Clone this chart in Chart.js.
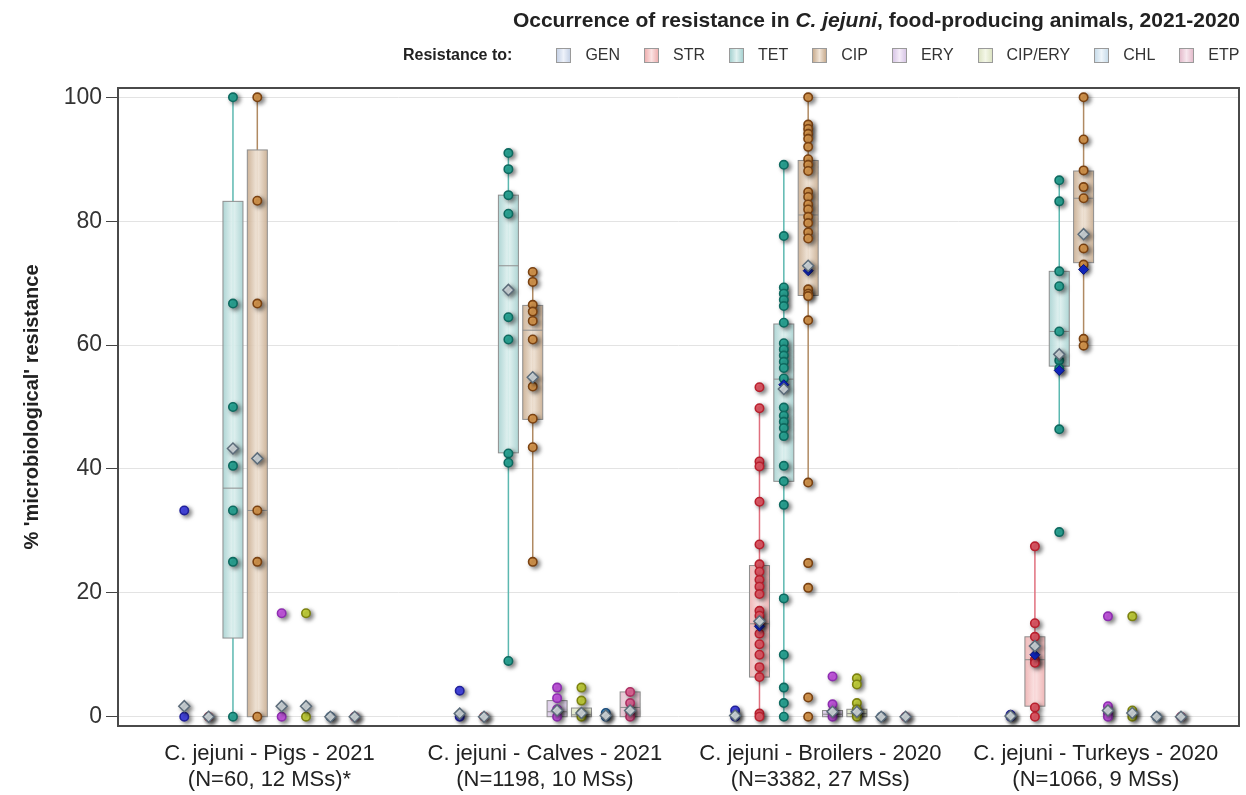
<!DOCTYPE html>
<html>
<head>
<meta charset="utf-8">
<script src="https://cdn.jsdelivr.net/npm/chart.js@4.4.1/dist/chart.umd.min.js"></script>
<style>
  body { margin: 0; background: #fff; font-family: "Liberation Sans", Arial, sans-serif; }
  #wrap { position: relative; width: 1246px; height: 795px; }
  #chart { position: absolute; left: 0; top: 0; }
  #title { position: absolute; right: 6px; top: 8px; font-size: 21px; font-weight: bold; color: #222; white-space: nowrap; }
  #legend { position: absolute; left: 403px; top: 46px; display: flex; align-items: center; font-size: 16px; color: #333; white-space: nowrap; }
  #legend .lead { font-weight: bold; margin-right: 44px; color: #222; }
  #legend .item { display: flex; align-items: center; margin-right: 24px; }
  #legend .item:last-child { margin-right: 0; }
  #legend .sw { width: 13px; height: 13px; border: 1px solid #9a9a9a; margin-right: 14px; }
</style>
</head>
<body>
<div id="wrap">
  <canvas id="chart" width="1246" height="795"></canvas>
  <div id="title">Occurrence of resistance in <i>C. jejuni</i>, food-producing animals, 2021-2020</div>
  <div id="legend"></div>
</div>
<script>
// ===== Data =====
var groupNames = ['C. jejuni - Pigs - 2021', 'C. jejuni - Calves - 2021', 'C. jejuni - Broilers - 2020', 'C. jejuni - Turkeys - 2020'];
var groupSizes = ['(N=60, 12 MSs)*', '(N=1198, 10 MSs)', '(N=3382, 27 MSs)', '(N=1066, 9 MSs)'];
var drugs = ['GEN', 'STR', 'TET', 'CIP', 'ERY', 'CIP/ERY', 'CHL', 'ETP'];
var yTicks = [0, 20, 40, 60, 80, 100];

// % resistance per member state, one list per drug (GEN..ETP)
var pigsPoints = [
  [33.3, 0], [0],
  [100, 66.7, 50, 40.5, 33.3, 25, 0],
  [100, 83.3, 66.7, 33.3, 25, 0],
  [16.7, 0], [16.7, 0], [0], [0]
];
var calvesPoints = [
  [4.2, 0], [0],
  [91.0, 88.4, 84.2, 81.2, 64.5, 60.9, 42.5, 41.0, 9.0],
  [71.8, 70.2, 66.5, 65.4, 63.9, 60.9, 53.3, 48.1, 43.5, 25.0],
  [4.7, 3.0, 1.2, 0], [4.7, 2.6, 0.6, 0], [0.6, 0], [4.0, 2.2, 0.8, 0]
];
var broilersPoints = [
  [1.0, 0],
  [53.2, 49.8, 41.2, 40.4, 34.7, 27.8, 24.6, 23.4, 22.1, 21.0, 19.8, 17.1, 16.3, 15.1, 13.4, 11.7, 10.0, 8.0, 6.4, 0.5, 0],
  [89.1, 77.6, 69.3, 68.3, 67.3, 66.3, 63.6, 60.3, 59.3, 58.3, 57.3, 56.3, 54.6, 49.9, 48.6, 47.6, 46.6, 45.3, 40.5, 38.0, 34.2, 19.1, 10.0, 4.7, 2.2, 0],
  [100, 95.6, 94.9, 94.1, 93.3, 92.0, 90.0, 89.1, 88.1, 84.7, 83.9, 82.7, 81.9, 80.7, 79.7, 78.2, 77.2, 69.0, 68.3, 67.9, 64.0, 37.8, 24.8, 20.8, 3.1, 0],
  [6.5, 2.0, 0.8, 0], [6.2, 5.2, 2.2, 1.2, 0.5, 0], [0], [0]
];
var turkeysPoints = [
  [0.3, 0],
  [27.5, 15.1, 12.9, 9.2, 8.7, 1.5, 0],
  [86.6, 83.2, 71.9, 69.5, 62.2, 57.5, 56.2, 46.4, 29.8],
  [100, 93.2, 88.2, 85.5, 83.7, 75.6, 73.0, 61.0, 59.9],
  [16.2, 1.7, 0.5, 0], [16.2, 1.0, 0], [0], [0]
];

// mean (grey diamond) per drug
var pigsMean     = [1.7, 0, 43.3, 41.7, 1.7, 1.7, 0, 0];
var calvesMean   = [0.5, 0, 68.9, 54.8, 1.0, 0.6, 0.2, 1.0];
var broilersMean = [0.2, 15.4, 52.9, 72.8, 0.8, 0.8, 0, 0];
var turkeysMean  = [0.1, 11.4, 58.5, 77.9, 1.0, 0.6, 0, 0];

// weighted value (blue diamond), only for some drugs
var broilersBlue = [null, 14.6, 53.6, 72.0, null, null, null, null];
var turkeysBlue  = [null, 10.0, 55.9, 72.2, null, null, null, null];

// box stats: [q1, median, q3, whiskerLow, whiskerHigh]
var pigsBox     = [null, null, [12.7, 36.9, 83.2, 0, 100], [0, 33.3, 91.5, 0, 100], null, null, null, null];
var calvesBox   = [null, null, [42.6, 72.8, 84.2, 9.0, 91.0], [48.0, 62.4, 66.4, 25.0, 71.8], [0, 0.8, 2.6, 0, 2.6], [0, 0.3, 1.4, 0, 1.4], null, [0, 1.5, 4.0, 0, 4.0]];
var broilersBox = [null, [6.4, 15.0, 24.4, 0, 49.8], [38.0, 54.5, 63.4, 0, 89.1], [68.0, 81.0, 89.8, 37.8, 100], [0, 0.4, 1.0, 0, 1.0], [0, 0.5, 1.2, 0, 1.2], null, null];
var turkeysBox  = [null, [1.7, 9.2, 12.9, 0, 27.5], [56.6, 62.2, 71.9, 46.4, 86.6], [73.3, 83.7, 88.1, 59.9, 100], null, null, null, null];

// ===== Styles =====
var pointFill = ['#4b4cf2', '#f0606e', '#2fb3a2', '#e6a254', '#d35ff0', '#d2e042', '#3ea2e2', '#f06fa2'];
var pointEdge = ['#20209a', '#b8202e', '#0e6a60', '#7a4212', '#8e2eb0', '#7c8210', '#1d4f80', '#ac2e62'];
var whiskerCol = ['#7a7ad8', '#e0707e', '#5cb8b0', '#b08a62', '#b890d0', '#b8c070', '#80a8c8', '#d890b0'];
var boxEdge   = ['#c6d2e6', '#eeb0b0', '#a7d2d1', '#c9ad90', '#d8c6e6', '#dde4c4', '#c8dcea', '#e4bccc'];
var boxCenter = ['#eef2fa', '#fbe2e2', '#e2f2f1', '#f1e5d8', '#f4ecf8', '#f4f7e8', '#eef5fa', '#f7e7ee'];

var allPoints = [pigsPoints, calvesPoints, broilersPoints, turkeysPoints];
var allMean   = [pigsMean, calvesMean, broilersMean, turkeysMean];
var allBlue   = [null, null, broilersBlue, turkeysBlue];
var allBox    = [pigsBox, calvesBox, broilersBox, turkeysBox];
var drugStep  = 0.0884;

function xPos(g, j) { return g + (j - 3.5) * drugStep; }

// ===== Legend (HTML) =====
(function() {
  var lg = document.getElementById('legend');
  var html = '<span class="lead">Resistance to:</span>';
  drugs.forEach(function(d, j) {
    html += '<span class="item"><span class="sw" style="background:linear-gradient(90deg,' + boxEdge[j] + ',' + boxCenter[j] + ',' + boxEdge[j] + ')"></span>' + d + '</span>';
  });
  lg.innerHTML = html;
})();

// ===== Datasets =====
var datasets = [];
var meanData = [], blueData = [];
allMean.forEach(function(arr, g) {
  arr.forEach(function(v, j) { meanData.push({ x: xPos(g, j), y: v }); });
});
allBlue.forEach(function(arr, g) {
  if (!arr) return;
  arr.forEach(function(v, j) { if (v !== null) blueData.push({ x: xPos(g, j), y: v }); });
});

datasets.push({
  label: 'mean', data: meanData, order: 1,
  pointStyle: 'rectRot', pointRadius: 5.5, backgroundColor: '#dfe7eb', borderColor: '#5c6c7a', borderWidth: 1.5
});
datasets.push({
  label: 'weighted', data: blueData, order: 2,
  pointStyle: 'rectRot', pointRadius: 5, backgroundColor: '#1228c6', borderColor: '#0a167a', borderWidth: 1
});
drugs.forEach(function(d, j) {
  var pts = [];
  allPoints.forEach(function(grp, g) {
    grp[j].forEach(function(v) { pts.push({ x: xPos(g, j), y: v }); });
  });
  datasets.push({
    label: d, data: pts, order: 3,
    pointRadius: 4.2, backgroundColor: pointFill[j], borderColor: pointEdge[j], borderWidth: 1.6
  });
});

// boxes + whiskers drawn through the scales
var boxPlugin = {
  id: 'boxes',
  beforeDatasetsDraw: function(chart) {
    var ctx = chart.ctx, xs = chart.scales.x, ys = chart.scales.y;
    var area = chart.chartArea;
    ctx.save();
    allBox.forEach(function(grp, g) {
      grp.forEach(function(b, j) {
        if (!b) return;
        var cx = xs.getPixelForValue(xPos(g, j));
        var half = 10;
        var yq1 = ys.getPixelForValue(b[0]), ymed = ys.getPixelForValue(b[1]), yq3 = ys.getPixelForValue(b[2]);
        var ylo = ys.getPixelForValue(b[3]), yhi = ys.getPixelForValue(b[4]);
        ctx.strokeStyle = whiskerCol[j];
        ctx.lineWidth = 1.5;
        ctx.beginPath(); ctx.moveTo(cx, ylo); ctx.lineTo(cx, yhi); ctx.stroke();
        var grad = ctx.createLinearGradient(cx - half, 0, cx + half, 0);
        grad.addColorStop(0, boxEdge[j]);
        grad.addColorStop(0.5, boxCenter[j]);
        grad.addColorStop(1, boxEdge[j]);
        ctx.fillStyle = grad;
        ctx.globalAlpha = 0.9;
        ctx.fillRect(cx - half, yq3, half * 2, yq1 - yq3);
        ctx.globalAlpha = 1;
        ctx.strokeStyle = '#8e8e8e';
        ctx.lineWidth = 1;
        ctx.strokeRect(cx - half, yq3, half * 2, yq1 - yq3);
        ctx.beginPath(); ctx.moveTo(cx - half, ymed); ctx.lineTo(cx + half, ymed); ctx.stroke();
      });
    });
    // frame round the plot area
    ctx.strokeStyle = '#4a4a4a';
    ctx.lineWidth = 2;
    ctx.strokeRect(area.left, area.top, area.right - area.left, area.bottom - area.top);
    ctx.restore();
  },
  // soft drop shadow under the markers
  beforeDatasetDraw: function(chart) {
    var ctx = chart.ctx;
    ctx.save();
    ctx.shadowColor = 'rgba(0,0,0,0.5)';
    ctx.shadowBlur = 4;
    ctx.shadowOffsetX = 2.5;
    ctx.shadowOffsetY = 2;
  },
  afterDatasetDraw: function(chart) {
    chart.ctx.restore();
  }
};

Chart.defaults.font.family = '"Liberation Sans", Arial, sans-serif';

new Chart(document.getElementById('chart'), {
  type: 'scatter',
  data: { datasets: datasets },
  plugins: [boxPlugin],
  options: {
    responsive: false,
    animation: false,
    layout: { padding: { top: 88, right: 6, left: 0, bottom: 0 } },
    plugins: { legend: { display: false }, tooltip: { enabled: false } },
    scales: {
      x: {
        type: 'linear', min: -0.55, max: 3.52,
        afterBuildTicks: function(s) { s.ticks = groupNames.map(function(_, i) { return { value: i }; }); },
        grid: { display: false },
        border: { display: false },
        ticks: {
          autoSkip: false, maxRotation: 0, padding: 7, color: '#222',
          font: { size: 22, lineHeight: 1.18 },
          callback: function(v, i) { return [groupNames[i], groupSizes[i]]; }
        },
        afterFit: function(s) { s.height = 69; }
      },
      y: {
        min: -1.5, max: 101.5,
        afterBuildTicks: function(s) { s.ticks = yTicks.map(function(v) { return { value: v }; }); },
        grid: { color: '#e3e3e3', tickColor: '#444', tickLength: 12, lineWidth: 1 },
        border: { display: false },
        ticks: { color: '#333', padding: 4, font: { size: 23 } },
        title: {
          display: true, text: "% 'microbiological' resistance", color: '#222',
          font: { size: 20, weight: 'bold' }, padding: { top: 20, bottom: 0 }
        },
        afterFit: function(s) { s.width = 118; }
      }
    }
  }
});
</script>
</body>
</html>
